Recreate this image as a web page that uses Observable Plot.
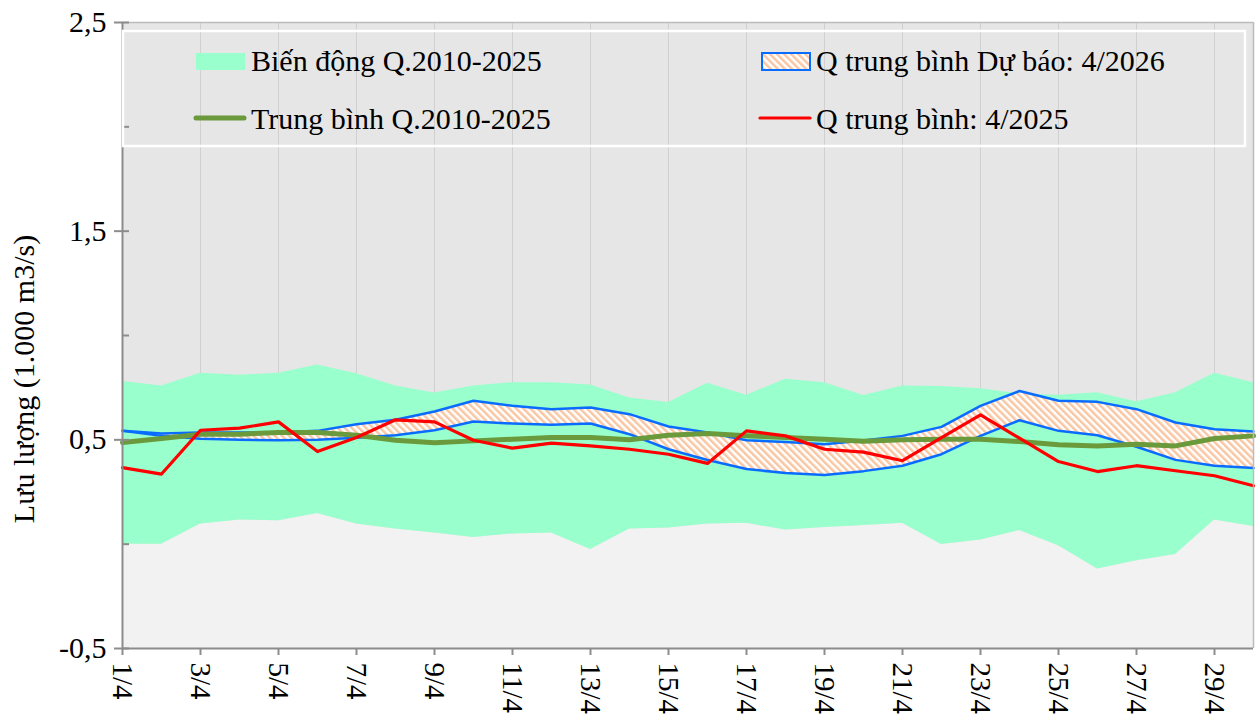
<!DOCTYPE html>
<html>
<head>
<meta charset="utf-8">
<script src="https://cdn.jsdelivr.net/npm/d3@7"></script>
<script src="https://cdn.jsdelivr.net/npm/@observablehq/plot@0.6"></script>
<style>
  body { margin: 0; background: #fff; }
  #chart svg { display: block; }
</style>
</head>
<body>
<div id="chart"></div>
<script>
// ---- Data ----
const days = [1,2,3,4,5,6,7,8,9,10,11,12,13,14,15,16,17,18,19,20,21,22,23,24,25,26,27,28,29,30];
// Biến động Q.2010-2025 (min / max envelope)
const bandMin = [0.000,0.000,0.097,0.116,0.112,0.147,0.097,0.073,0.054,0.032,0.049,0.054,-0.026,0.073,0.078,0.097,0.100,0.068,0.080,0.090,0.100,-0.002,0.020,0.065,-0.007,-0.119,-0.079,-0.050,0.116,0.085];
const bandMax = [0.780,0.758,0.819,0.810,0.819,0.859,0.817,0.758,0.725,0.758,0.774,0.774,0.763,0.700,0.679,0.771,0.714,0.790,0.774,0.712,0.758,0.755,0.745,0.720,0.714,0.726,0.682,0.726,0.819,0.774];
// Trung bình Q.2010-2025
const meanQ = [0.487,0.506,0.527,0.527,0.535,0.535,0.522,0.498,0.486,0.495,0.503,0.511,0.511,0.500,0.522,0.530,0.519,0.511,0.503,0.493,0.500,0.503,0.503,0.492,0.476,0.471,0.479,0.471,0.506,0.519];
// Q trung bình Dự báo: 4/2026 (upper / lower)
const fcMax = [0.543,0.530,0.535,0.535,0.535,0.543,0.575,0.596,0.636,0.687,0.663,0.647,0.655,0.623,0.564,0.535,0.498,0.490,0.479,0.497,0.519,0.562,0.663,0.734,0.687,0.682,0.647,0.583,0.551,0.540];
const fcMin = [0.543,0.519,0.505,0.500,0.498,0.500,0.510,0.522,0.546,0.588,0.578,0.572,0.578,0.527,0.455,0.403,0.360,0.341,0.331,0.350,0.376,0.431,0.519,0.594,0.543,0.522,0.467,0.404,0.376,0.365];
// Q trung bình: 4/2025
const q2025 = [0.367,0.336,0.546,0.556,0.586,0.444,0.511,0.596,0.586,0.498,0.460,0.484,0.471,0.455,0.431,0.387,0.543,0.519,0.455,0.441,0.400,0.511,0.620,0.508,0.396,0.348,0.376,0.352,0.328,0.280];

const xTicks = [1,3,5,7,9,11,13,15,17,19,21,23,25,27,29];
const yDomain = [-0.5, 2.5];
const yMajor = [-0.5, 0.5, 1.5, 2.5];
const yMinor = [0, 1, 2];
const yLabel = "Lưu lượng (1.000 m3/s)";
const legendLabels = ["Biến động Q.2010-2025", "Trung bình Q.2010-2025", "Q trung bình Dự báo: 4/2026", "Q trung bình: 4/2025"];

// ---- Styles ----
const FONT = "'Liberation Serif', 'Times New Roman', serif";
const C = {
  bg: "#e6e6e6", low: "#f2f2f2", band: "#99ffcc", mean: "#6a9a3c",
  blue: "#0a6cff", red: "#ff0000", grid: "#d0d0d0", axis: "#8c8c8c", border: "#bcbcbc",
  hatch: "#f8c6a2"
};

const data = days.map((d, i) => ({
  day: d, bmin: bandMin[i], bmax: bandMax[i], mean: meanQ[i],
  fmax: fcMax[i], fmin: fcMin[i], q: q2025[i]
}));
const fmt = v => v.toFixed(1).replace(".", ",");

const chart = Plot.plot({
  width: 1260, height: 722,
  marginLeft: 122, marginRight: 7, marginTop: 22, marginBottom: 74,
  style: { fontFamily: FONT, fontSize: "30px", color: "#000", background: "#fff" },
  x: { domain: [days[0], days[days.length - 1]] },
  y: { domain: yDomain },
  marks: [
    Plot.frame({ fill: C.bg }),
    Plot.gridX(xTicks, { stroke: C.grid, strokeOpacity: 1 }),
    Plot.areaY(data, { x: "day", y1: () => yDomain[0], y2: "bmin", fill: C.low }),
    Plot.areaY(data, { x: "day", y1: "bmin", y2: "bmax", fill: C.band }),
    Plot.areaY(data, { x: "day", y1: "fmin", y2: "fmax", fill: "url(#hatch)" }),
    Plot.lineY(data, { x: "day", y: "fmax", stroke: C.blue, strokeWidth: 2.5 }),
    Plot.lineY(data, { x: "day", y: "fmin", stroke: C.blue, strokeWidth: 2.5 }),
    Plot.lineY(data, { x: "day", y: "mean", stroke: C.mean, strokeWidth: 5 }),
    Plot.lineY(data, { x: "day", y: "q", stroke: C.red, strokeWidth: 3.2 }),
    Plot.ruleY([yDomain[1]], { stroke: C.border, strokeWidth: 1.5 }),
    Plot.ruleX([days[days.length - 1]], { stroke: C.border, strokeWidth: 1.5 }),
    Plot.ruleX([days[0]], { stroke: C.axis, strokeWidth: 2 }),
    Plot.ruleY([yDomain[0]], { stroke: C.axis, strokeWidth: 2 }),
    Plot.axisY({ ticks: yMajor, tickSize: 8, tickPadding: 8, tickFormat: fmt, stroke: C.axis, strokeWidth: 2, fill: "#000", fontSize: 30, label: null }),
    Plot.axisY({ ticks: [...yMajor, ...yMinor], tickSize: 7, dx: 7, text: null, stroke: C.axis, strokeWidth: 2, label: null }),
    Plot.axisX({ ticks: xTicks, tickSize: 7, tickPadding: 7, tickRotate: 90, tickFormat: d => `${d}/4`, stroke: C.axis, strokeWidth: 2, fill: "#000", fontSize: 29, label: null })
  ]
});

const svg = d3.select(chart);
// hatch pattern
const defs = svg.insert("defs", ":first-child");
const pat = defs.append("pattern").attr("id", "hatch").attr("patternUnits", "userSpaceOnUse")
  .attr("width", 5).attr("height", 5).attr("patternTransform", "rotate(-45)");
pat.append("rect").attr("width", 5).attr("height", 5).attr("fill", "#ffffff");
pat.append("rect").attr("width", 2.5).attr("height", 5).attr("fill", C.hatch);

// y-axis title
svg.append("text")
  .attr("transform", "translate(34,379) rotate(-90)")
  .attr("text-anchor", "middle")
  .attr("font-family", FONT).attr("font-size", 30).attr("fill", "#000")
  .text(yLabel);

// legend
const lg = svg.append("g").attr("font-family", FONT).attr("font-size", 30).attr("fill", "#000").attr("text-anchor", "start");
lg.append("rect").attr("x", 123).attr("y", 31).attr("width", 1122).attr("height", 115)
  .attr("fill", "none").attr("stroke", "#ffffff").attr("stroke-width", 2.5);
// item 1: band swatch
lg.append("rect").attr("x", 196).attr("y", 53).attr("width", 49).attr("height", 17).attr("fill", C.band);
lg.append("text").attr("x", 251).attr("y", 71).attr("text-anchor", "start").text(legendLabels[0]);
// item 2: mean line
lg.append("line").attr("x1", 196).attr("x2", 244).attr("y1", 118).attr("y2", 118)
  .attr("stroke", C.mean).attr("stroke-width", 5).attr("stroke-linecap", "round");
lg.append("text").attr("x", 251).attr("y", 129).attr("text-anchor", "start").text(legendLabels[1]);
// item 3: forecast hatch
lg.append("rect").attr("x", 762).attr("y", 53).attr("width", 48).attr("height", 17)
  .attr("fill", "url(#hatch)").attr("stroke", C.blue).attr("stroke-width", 2);
lg.append("text").attr("x", 816).attr("y", 71).attr("text-anchor", "start").text(legendLabels[2]);
// item 4: red line
lg.append("line").attr("x1", 760).attr("x2", 810).attr("y1", 118).attr("y2", 118)
  .attr("stroke", C.red).attr("stroke-width", 3.2).attr("stroke-linecap", "round");
lg.append("text").attr("x", 816).attr("y", 129).attr("text-anchor", "start").text(legendLabels[3]);

document.getElementById("chart").appendChild(chart);
</script>
</body>
</html>
